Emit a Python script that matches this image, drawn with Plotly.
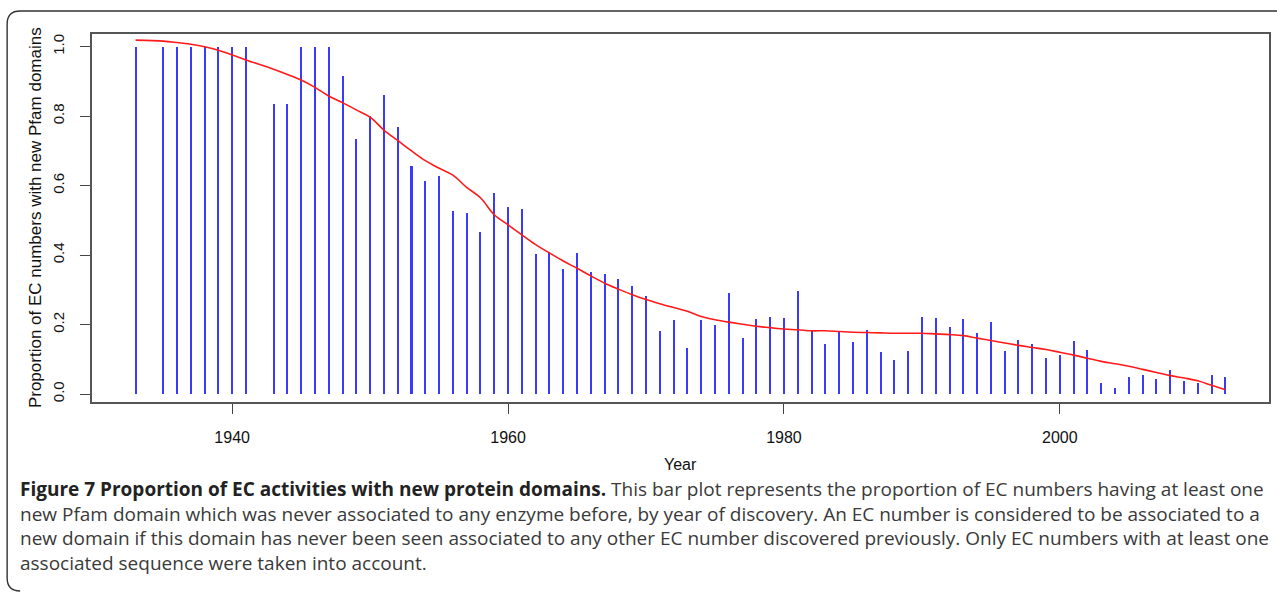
import plotly.graph_objects as go

years = [1933, 1935, 1936, 1937, 1938, 1939, 1940, 1941, 1943, 1944, 1945, 1946, 1947, 1948, 1949,
         1950, 1951, 1952, 1953, 1954, 1955, 1956, 1957, 1958, 1959, 1960, 1961, 1962, 1963, 1964,
         1965, 1966, 1967, 1968, 1969, 1970, 1971, 1972, 1973, 1974, 1975, 1976, 1977, 1978, 1979,
         1980, 1981, 1982, 1983, 1984, 1985, 1986, 1987, 1988, 1989, 1990, 1991, 1992, 1993, 1994,
         1995, 1996, 1997, 1998, 1999, 2000, 2001, 2002, 2003, 2004, 2005, 2006, 2007, 2008, 2009,
         2010, 2011, 2012]

proportion = [1.0, 1.0, 1.0, 1.0, 1.0, 1.0, 1.0, 1.0, 0.834, 0.834, 1.0, 1.0, 1.0, 0.917, 0.735,
              0.800, 0.862, 0.768, 0.657, 0.613, 0.629, 0.528, 0.521, 0.466, 0.578, 0.537, 0.533, 0.403, 0.408, 0.360,
              0.406, 0.351, 0.346, 0.331, 0.312, 0.281, 0.180, 0.212, 0.132, 0.212, 0.200, 0.292, 0.160, 0.216, 0.223,
              0.220, 0.296, 0.182, 0.145, 0.178, 0.150, 0.183, 0.121, 0.098, 0.125, 0.223, 0.219, 0.192, 0.216, 0.176,
              0.208, 0.125, 0.156, 0.145, 0.105, 0.112, 0.152, 0.128, 0.033, 0.018, 0.050, 0.054, 0.042, 0.070, 0.038,
              0.033, 0.054, 0.050]

smooth = [1.019, 1.016, 1.012, 1.007, 1.000, 0.990, 0.976, 0.962, 0.935, 0.920, 0.904, 0.883, 0.858, 0.839, 0.818,
          0.797, 0.760, 0.730, 0.700, 0.672, 0.650, 0.630, 0.595, 0.565, 0.516, 0.487, 0.458, 0.430, 0.406, 0.383,
          0.362, 0.340, 0.319, 0.302, 0.286, 0.272, 0.260, 0.249, 0.238, 0.223, 0.214, 0.207, 0.201, 0.195, 0.191,
          0.187, 0.185, 0.182, 0.182, 0.180, 0.178, 0.177, 0.176, 0.175, 0.175, 0.175, 0.173, 0.171, 0.168, 0.161,
          0.154, 0.147, 0.140, 0.134, 0.128, 0.120, 0.112, 0.103, 0.094, 0.087, 0.080, 0.071, 0.062, 0.053, 0.046,
          0.038, 0.025, 0.012]

x_ticks = [1940, 1960, 1980, 2000]
y_ticks = [0.0, 0.2, 0.4, 0.6, 0.8, 1.0]
y_tick_labels = ["0.0", "0.2", "0.4", "0.6", "0.8", "1.0"]

x_title = "Year"
y_title = "Proportion of EC numbers with new Pfam domains"
caption_bold = "Figure 7 Proportion of EC activities with new protein domains."
caption_lines = [
    " This bar plot represents the proportion of EC numbers having at least one",
    "new Pfam domain which was never associated to any enzyme before, by year of discovery. An EC number is considered to be associated to a",
    "new domain if this domain has never been seen associated to any other EC number discovered previously. Only EC numbers with at least one",
    "associated sequence were taken into account.",
]

W, H = 1277, 594
L, R, T, B = 92, 6, 34, 192
PW, PH = W - L - R, H - T - B


def px_x(x):
    return (x - L) / PW


def px_y(y):
    return ((H - B) - y) / PH


fig = go.Figure()
fig.add_trace(go.Bar(x=years, y=proportion, width=0.145,
                     marker=dict(color="#3a3aff", line=dict(width=0)), showlegend=False))
fig.add_trace(go.Scatter(x=years, y=smooth, mode="lines", line_shape="spline",
                         line=dict(color="#ff1a1a", width=1.6), showlegend=False))

axis_font = dict(family="Liberation Sans, Arial, sans-serif", size=15, color="#111")

fig.update_layout(
    width=W, height=H,
    margin=dict(l=L, r=R, t=T, b=B, pad=0),
    paper_bgcolor="white", plot_bgcolor="white",
    bargap=0,
    xaxis=dict(range=[1929.84, 2015.16], tickvals=x_ticks, ticktext=[str(v) for v in x_ticks],
               ticks="outside", ticklen=10, tickwidth=1.3, tickcolor="#444",
               showline=True, linecolor="#555", linewidth=1.6, mirror=True,
               showgrid=False, zeroline=False, tickfont=dict(**{**axis_font, "size": 16}),
               ticklabelstandoff=10),
    yaxis=dict(range=[-0.023, 1.0365], tickvals=y_ticks, ticktext=y_tick_labels,
               ticks="outside", ticklen=10, tickwidth=1.3, tickcolor="#444",
               showline=True, linecolor="#555", linewidth=1.6, mirror=True,
               showgrid=False, zeroline=False, tickangle=-90, tickfont=axis_font,
               ticklabelstandoff=10),
)

# axis titles
fig.add_annotation(text=x_title, xref="paper", yref="paper", x=px_x(681), y=px_y(464),
                   showarrow=False, font=dict(**{**axis_font, "size": 16}),
                   xanchor="center", yanchor="middle")
fig.add_annotation(text=y_title, xref="paper", yref="paper", x=px_x(35), y=px_y(218),
                   showarrow=False, textangle=-90, font=dict(**{**axis_font, "size": 17}),
                   xanchor="center", yanchor="middle")

# caption (one text block, four lines)
cap_font = dict(family="Open Sans, Noto Sans, sans-serif", size=19, color="#3a3a3a")
cap_text = ("<b style='color:#222'>" + caption_bold + "</b>" + caption_lines[0] + "<br>"
            + "<br>".join(caption_lines[1:]))
fig.add_annotation(text=cap_text, xref="paper", yref="paper", x=px_x(18), y=px_y(526),
                   showarrow=False, font=cap_font, xanchor="left", yanchor="middle",
                   align="left")

# outer rounded frame (decorative)
fig.add_shape(type="path", xref="paper", yref="paper", layer="above",
              path="M {x0},{y1} L {x0},{y2} Q {x0},{y3} {x4},{y3} L {x5},{y3}".format(
                  x0=px_x(7), y1=px_y(578), y2=px_y(24), y3=px_y(11),
                  x4=px_x(20), x5=px_x(W + 5)),
              line=dict(color="#333", width=1.4))
fig.add_shape(type="path", xref="paper", yref="paper", layer="above",
              path="M {x0},{ya} Q {x0},{yb} {x1},{yb}".format(
                  x0=px_x(7), ya=px_y(578), yb=px_y(591), x1=px_x(20)),
              line=dict(color="#333", width=1.4))

fig.write_html("out.html", config={"displayModeBar": False},
               post_script="document.body.style.margin='0';")
